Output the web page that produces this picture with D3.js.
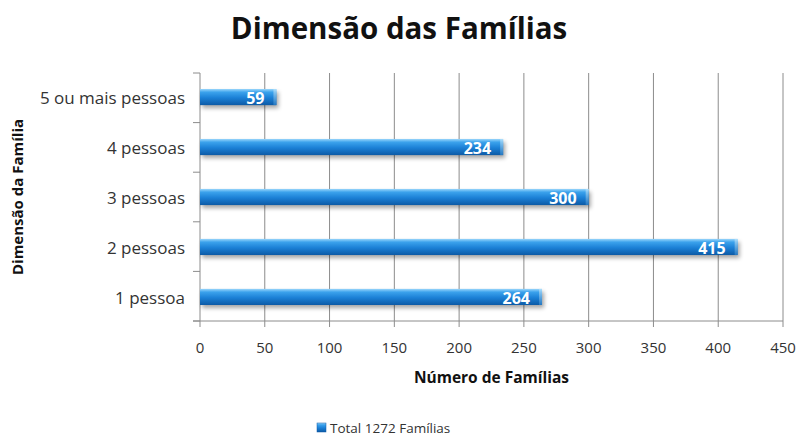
<!DOCTYPE html>
<html>
<head>
<meta charset="utf-8">
<script src="https://cdn.jsdelivr.net/npm/d3@7"></script>
<style>
  body { margin: 0; background: #fff; }
  svg { font-family: "Open Sans", Lato, sans-serif; }
</style>
</head>
<body>
<svg id="chart" width="800" height="437"></svg>
<script>
// data
var categories = ['5 ou mais pessoas', '4 pessoas', '3 pessoas', '2 pessoas', '1 pessoa'];
var values = [59, 234, 300, 415, 264];
var xTicks = [0, 50, 100, 150, 200, 250, 300, 350, 400, 450];
var seriesName = 'Total 1272 Famílias';

let margin = { top: 73, left: 200, right: 17, bottom: 116 },
  width = 800 - margin.left - margin.right,
  height = 437 - margin.top - margin.bottom;

let svg = d3.select('#chart');

let defs = svg.append('defs');
let grad = defs.append('linearGradient')
  .attr('id', 'barGrad').attr('x1', 0).attr('y1', 0).attr('x2', 0).attr('y2', 1);
grad.append('stop').attr('offset', '0%').attr('stop-color', '#9ad6fb');
grad.append('stop').attr('offset', '20%').attr('stop-color', '#3ba2ec');
grad.append('stop').attr('offset', '55%').attr('stop-color', '#1b80d6');
grad.append('stop').attr('offset', '100%').attr('stop-color', '#0c5aa6');

let capGrad = defs.append('linearGradient')
  .attr('id', 'capGrad').attr('x1', 0).attr('y1', 0).attr('x2', 0).attr('y2', 1);
capGrad.append('stop').attr('offset', '0%').attr('stop-color', '#b5e2fc');
capGrad.append('stop').attr('offset', '100%').attr('stop-color', '#2a7fc8');

let blur = defs.append('filter').attr('id', 'shadow')
  .attr('x', '-5%').attr('y', '-50%').attr('width', '115%').attr('height', '250%');
blur.append('feGaussianBlur').attr('stdDeviation', 2);

let g = svg.append('g')
  .attr('transform', 'translate(' + margin.left + ',' + margin.top + ')');

let x = d3.scaleLinear().domain([0, 450]).range([0, width]);
let y = d3.scaleBand().domain(categories).range([0, height]).paddingInner(0.677).paddingOuter(0.32);
let yTickScale = d3.scaleLinear().domain([0, categories.length]).range([0, height]);

// vertical grid lines
g.selectAll('.grid')
  .data(xTicks.slice(1))
  .enter().append('line')
  .attr('x1', d => x(d)).attr('x2', d => x(d))
  .attr('y1', 0).attr('y2', height + 6)
  .attr('stroke', '#8c8c8c').attr('stroke-width', 1);

// left axis line + band tick marks
g.append('line')
  .attr('x1', 0).attr('x2', 0).attr('y1', 0).attr('y2', height + 6)
  .attr('stroke', '#8c8c8c');
g.selectAll('.ytick')
  .data(d3.range(categories.length + 1))
  .enter().append('line')
  .attr('x1', -7).attr('x2', 0)
  .attr('y1', d => yTickScale(d)).attr('y2', d => yTickScale(d))
  .attr('stroke', '#8c8c8c');

// bottom axis line
g.append('line')
  .attr('x1', -7).attr('x2', width).attr('y1', height).attr('y2', height)
  .attr('stroke', '#8c8c8c');

// x tick labels
g.selectAll('.xlab')
  .data(xTicks)
  .enter().append('text')
  .attr('x', d => x(d)).attr('y', height + 32)
  .attr('text-anchor', 'middle')
  .attr('fill', '#333')
  .style('font-size', '15px')
  .text(d => d);

// category labels
g.selectAll('.ylab')
  .data(categories)
  .enter().append('text')
  .attr('x', -15)
  .attr('y', d => y(d) + y.bandwidth() / 2)
  .attr('dy', '0.42em')
  .attr('text-anchor', 'end')
  .attr('fill', '#333')
  .style('font-size', '17px')
  .text(d => d);

// bars
let bars = g.selectAll('.bar')
  .data(categories)
  .enter().append('g');

bars.append('rect')
  .attr('x', 2)
  .attr('y', d => y(d) + 3)
  .attr('width', (d, i) => x(values[i]))
  .attr('height', y.bandwidth())
  .attr('fill', '#000')
  .attr('opacity', 0.35)
  .attr('filter', 'url(#shadow)');

bars.append('rect')
  .attr('x', 0)
  .attr('y', d => y(d))
  .attr('width', (d, i) => x(values[i]))
  .attr('height', y.bandwidth())
  .attr('fill', 'url(#barGrad)');

bars.append('rect')
  .attr('x', (d, i) => x(values[i]) - 3)
  .attr('y', d => y(d))
  .attr('width', 3)
  .attr('height', y.bandwidth())
  .attr('fill', 'url(#capGrad)')
  .attr('opacity', 0.8);

bars.append('text')
  .attr('x', (d, i) => x(values[i]) - 12)
  .attr('y', d => y(d) + y.bandwidth() / 2)
  .attr('dy', '0.42em')
  .attr('text-anchor', 'end')
  .attr('fill', '#fff')
  .style('font-size', '16px')
  .style('font-weight', 'bold')
  .text((d, i) => values[i]);

// title
svg.append('text')
  .attr('x', 399).attr('y', 39)
  .attr('text-anchor', 'middle')
  .attr('fill', '#111')
  .style('font-size', '29.5px')
  .style('font-weight', 'bold')
  .text('Dimensão das Famílias');

// axis titles
svg.append('text')
  .attr('x', margin.left + width / 2).attr('y', margin.top + height + 62)
  .attr('text-anchor', 'middle')
  .attr('fill', '#111')
  .style('font-size', '15.5px')
  .style('font-weight', 'bold')
  .text('Número de Famílias');

svg.append('text')
  .attr('transform', 'translate(23,' + (margin.top + height / 2) + ') rotate(-90)')
  .attr('text-anchor', 'middle')
  .attr('fill', '#111')
  .style('font-size', '15px')
  .style('font-weight', 'bold')
  .text('Dimensão da  Família');

// legend
let legend = svg.append('g').attr('transform', 'translate(317,423)');
legend.append('rect')
  .attr('width', 9).attr('height', 9)
  .attr('fill', 'url(#barGrad)')
  .attr('stroke', '#0c5aa6').attr('stroke-width', 0.5);
legend.append('text')
  .attr('x', 13).attr('y', 5).attr('dy', '0.35em')
  .attr('fill', '#333')
  .style('font-size', '13.5px')
  .text(seriesName);
</script>
</body>
</html>
